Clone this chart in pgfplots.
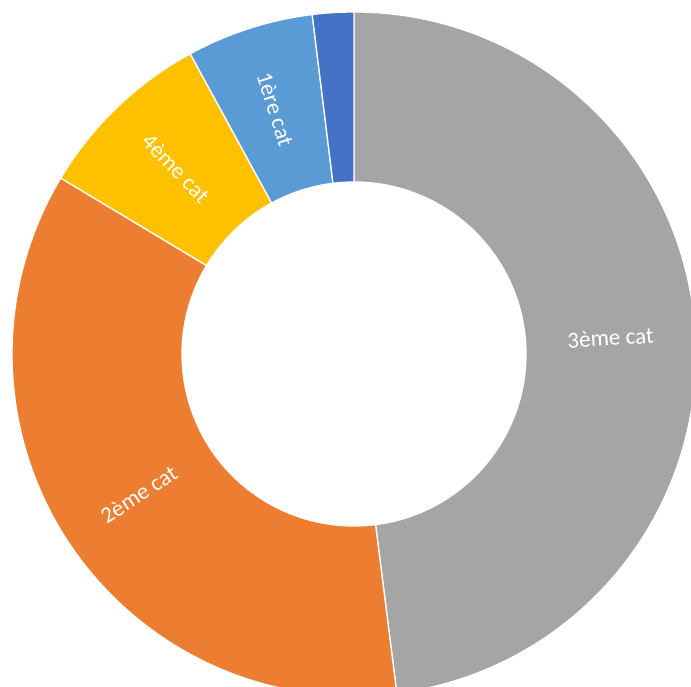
\documentclass[border=0pt]{standalone}
\usepackage{pgfplots}
\pgfplotsset{compat=1.18}
\usepackage{fontspec}
\setmainfont{Carlito}
\definecolor{cgray}{HTML}{A5A5A5}
\definecolor{corange}{HTML}{ED7D31}
\definecolor{cgold}{HTML}{FFC000}
\definecolor{cblue}{HTML}{5B9BD5}
\definecolor{cdark}{HTML}{4472C4}
\begin{document}
\begin{tikzpicture}
\begin{axis}[x=1pt,y=1pt,xmin=-354,xmax=337,ymin=-333,ymax=354,hide axis,clip=true]
\pgfplotsextra{
  \gdef\cum{0}
  \foreach \val/\col/\lab in {48.0/cgray/3ème cat,35.6/corange/2ème cat,8.45/cgold/4ème cat,6.0/cblue/1ère cat,1.95/cdark/{}}{
    \pgfmathsetmacro\aS{90-3.6*\cum}
    \pgfmathsetmacro\aE{90-3.6*(\cum+\val)}
    \pgfmathsetmacro\aM{(\aS+\aE)/2}
    \pgfmathsetmacro\rot{cos(\aM)<0 ? \aM+180 : \aM}
    \fill[\col,draw=white,line width=1.3pt]
      (axis cs:{342*cos(\aS)},{342*sin(\aS)}) arc[start angle=\aS,end angle=\aE,radius=342pt]
      -- (axis cs:{172*cos(\aE)},{172*sin(\aE)}) arc[start angle=\aE,end angle=\aS,radius=172pt]
      -- cycle;
    \node[text=white,font=\fontsize{23}{27}\selectfont,rotate=\rot,inner sep=0pt]
      at (axis cs:{257*cos(\aM)},{257*sin(\aM)}) {\lab};
    \pgfmathsetmacro\nc{\cum+\val}
    \xdef\cum{\nc}
  }
}
\end{axis}
\pgfresetboundingbox
\useasboundingbox (current axis.south west) rectangle (current axis.north east);
\end{tikzpicture}
\end{document}
